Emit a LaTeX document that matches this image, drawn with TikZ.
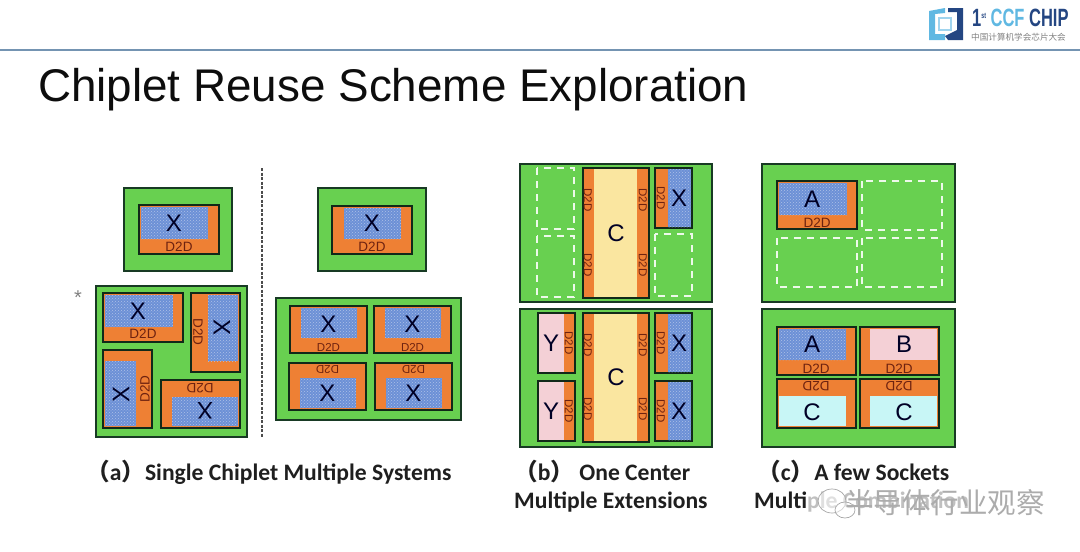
\documentclass[tikz,border=0pt]{standalone}
\usepackage{fontspec}
\setmainfont{Liberation Sans}
\newfontfamily\capfont{Carlito}
\newfontfamily\cjk{Noto Sans CJK SC}
\usetikzlibrary{patterns}
\definecolor{boardgreen}{RGB}{104,208,80}
\definecolor{edgedark}{RGB}{24,58,36}
\definecolor{phyorange}{RGB}{238,128,52}
\definecolor{coreblue}{RGB}{108,144,214}
\definecolor{dtdred}{RGB}{110,34,16}
\definecolor{centercream}{RGB}{250,230,160}
\definecolor{corepink}{RGB}{244,208,214}
\definecolor{corecyan}{RGB}{200,246,246}
\definecolor{logonavy}{RGB}{36,70,130}
\definecolor{logosky}{RGB}{96,184,226}
\definecolor{headerline}{RGB}{116,148,178}

\begin{document}
\begin{tikzpicture}[x=1pt, y=-1pt]
        \tikzstyle{board} = [draw = edgedark, line width = 1.5pt, fill = boardgreen]
        \tikzstyle{chipbox} = [draw = edgedark!70!black, line width = 1.6pt, fill = phyorange]
        \tikzstyle{xcore} = [fill = coreblue, postaction = {pattern = crosshatch dots, pattern color = white!45!coreblue}]
        \tikzstyle{socket} = [draw = white!88!boardgreen, line width = 1.9pt, dash pattern = on 7pt off 6pt]
        \tikzstyle{corename} = [inner sep = 0pt, text = black!85!blue, font = \fontsize{24}{24}\selectfont]
        \tikzstyle{dtd} = [inner sep = 0pt, text = dtdred, font = \fontsize{13.5}{14}\selectfont]
        \tikzstyle{dtdsmall} = [inner sep = 0pt, text = dtdred, font = \fontsize{11.5}{12}\selectfont]
        \tikzstyle{caption} = [inner sep = 0pt, anchor = west, text = black!88, font = \capfont\bfseries\fontsize{23.6}{26}\selectfont]
        \useasboundingbox (0,0) rectangle (1080,552);

        % header
        \draw[line width = 2pt, color = headerline] (0,50) -- (1080,50);
        \fill[logosky] (929,11) -- (945,8) -- (945,13) -- (935,14) -- (935,34) -- (945,34) -- (945,40) -- (929,40) -- cycle;
        \fill[logonavy] (963,8) -- (948,8) -- (948,12) -- (957,12) -- (957,30) -- (945,36) -- (948,40) -- (963,40) -- cycle;
        \draw[logosky!60!white, line width = 1.5pt] (939,18) rectangle (951,30);
        \node[inner sep = 0pt, anchor = west, xscale = .66, font = \bfseries\fontsize{25}{26}\selectfont] (chipname) at (972,18)
          {\textcolor{logonavy}{1\raisebox{8pt}{\fontsize{8}{8}\selectfont st}} \textcolor{logosky}{CCF} \textcolor{logonavy}{CHIP}};
        \node[inner sep = 0pt, anchor = west, text = gray, font = \cjk\fontsize{8.6}{9}\selectfont] (chipsub) at (971,37) {中国计算机学会芯片大会};
        \node[inner sep = 0pt, anchor = west, text = black!95, font = \fontsize{45.8}{50}\selectfont] (title) at (38,90) {Chiplet Reuse Scheme Exploration};

        % (a) left
        \draw[board] (124,188) rectangle (232,271);
        \draw[chipbox] (139,205) rectangle (219,254);
        \fill[xcore] (141,207) rectangle (208,239);
        \node[corename] (xa) at (174,223) {X};
        \node[dtd] (da) at (179,247) {D2D};
        \node[inner sep = 0pt, text = gray, font = \fontsize{20}{20}\selectfont] (star) at (78,298) {*};
        \draw[board] (96,286) rectangle (247,437);
        \draw[chipbox] (103,293) rectangle (183,342);
        \fill[xcore] (105,295) rectangle (173,327);
        \node[corename] (xb) at (138,311) {X};
        \node[dtd] (db) at (143,334) {D2D};
        \draw[chipbox] (191,293) rectangle (240,372);
        \fill[xcore] (208,295) rectangle (238,361);
        \node[corename, rotate = -90] (xc) at (222,327) {X};
        \node[dtd, rotate = -90] (dc) at (198,332) {D2D};
        \draw[chipbox] (103,350) rectangle (152,428);
        \fill[xcore] (105,361) rectangle (136,426);
        \node[corename, rotate = 90] (xd) at (121,394) {X};
        \node[dtd, rotate = 90] (dd) at (145,389) {D2D};
        \draw[chipbox] (161,380) rectangle (240,428);
        \fill[xcore] (172,397) rectangle (238,426);
        \node[corename, rotate = 180] (xe) at (205,411) {X};
        \node[dtd, rotate = 180] (de) at (200,388) {D2D};
        \draw[line width = 2pt, color = black!70, dash pattern = on 3pt off 1.5pt] (262,168) -- (262,437);

        % (a) right
        \draw[board] (318,188) rectangle (426,271);
        \draw[chipbox] (332,206) rectangle (412,254);
        \fill[xcore] (344,208) rectangle (401,239);
        \node[corename] (xf) at (372,223) {X};
        \node[dtd] (df) at (372,247) {D2D};
        \draw[board] (276,298) rectangle (461,420);
        \foreach \i/\l/\r in {g/290/367, h/374/451} {
          \draw[chipbox] (\l,306) rectangle (\r,353);
          \fill[xcore] (\l+11,308) rectangle (\r-10,338);
          \node[corename] (x\i) at (\l/2+\r/2,324) {X};
          \node[dtdsmall] (d\i) at (\l/2+\r/2,347) {D2D};
        }
        \foreach \i/\l/\r in {j/289/366, k/375/452} {
          \draw[chipbox] (\l,363) rectangle (\r,410);
          \fill[xcore] (\l+11,378) rectangle (\r-10,408);
          \node[corename] (x\i) at (\l/2+\r/2,393) {X};
          \node[dtdsmall, rotate = 180] (d\i) at (\l/2+\r/2,370) {D2D};
        }

        % (b)
        \draw[board] (520,164) rectangle (712,302);
        \draw[socket] (537,168) rectangle (574,229);
        \draw[socket] (537,236) rectangle (574,297);
        \draw[socket] (655,234) rectangle (692,296);
        \draw[board] (520,309) rectangle (712,447);
        \foreach \i/\t/\b in {1/168/298, 2/313/442} {
          \draw[chipbox] (583,\t) rectangle (649,\b);
          \fill[centercream] (594,\t+1) rectangle (637,\b-1);
          \node[corename] (c\i) at (616,\t/2+\b/2) {C};
          \foreach \k in {588, 643} {
            \node[dtdsmall, rotate = -90] (dt\i\k) at (\k,\t+32) {D2D};
            \node[dtdsmall, rotate = -90] (db\i\k) at (\k,\b-33) {D2D};
          }
        }
        \foreach \i/\t/\b in {1/168/228, 2/313/373, 3/381/441} {
          \draw[chipbox] (655,\t) rectangle (692,\b);
          \fill[xcore] (668,\t+1) rectangle (691,\b-1);
          \node[corename] (xr\i) at (679,\t/2+\b/2) {X};
          \node[dtdsmall, rotate = -90] (dr\i) at (661,\t/2+\b/2) {D2D};
        }
        \foreach \i/\t/\b in {1/313/373, 2/381/441} {
          \draw[chipbox] (538,\t) rectangle (575,\b);
          \fill[corepink] (539,\t+1) rectangle (564,\b-1);
          \node[corename] (y\i) at (551,\t/2+\b/2) {Y};
          \node[dtdsmall, rotate = -90] (dy\i) at (569,\t/2+\b/2) {D2D};
        }

        % (c)
        \draw[board] (762,164) rectangle (955,302);
        \draw[chipbox] (777,181) rectangle (857,229);
        \fill[xcore] (779,183) rectangle (847,215);
        \node[corename] (a1) at (812,199) {A};
        \node[dtd] (da1) at (817,223) {D2D};
        \draw[socket] (862,181) rectangle (942,230);
        \draw[socket] (777,238) rectangle (857,287);
        \draw[socket] (862,238) rectangle (942,287);
        \draw[board] (762,309) rectangle (955,447);
        \draw[chipbox] (777,327) rectangle (856,375);
        \fill[xcore] (779,329) rectangle (846,360);
        \node[corename] (a2) at (812,344) {A};
        \node[dtd] (da2) at (816,369) {D2D};
        \draw[chipbox] (860,327) rectangle (939,375);
        \fill[corepink] (870,329) rectangle (937,360);
        \node[corename] (b2) at (904,344) {B};
        \node[dtd] (db2) at (899,369) {D2D};
        \draw[chipbox] (777,379) rectangle (856,428);
        \fill[corecyan] (779,396) rectangle (846,426);
        \node[corename] (cl) at (812,412) {C};
        \node[dtd, rotate = 180] (dcl) at (816,386) {D2D};
        \draw[chipbox] (860,379) rectangle (939,428);
        \fill[corecyan] (870,396) rectangle (937,426);
        \node[corename] (cr) at (904,412) {C};
        \node[dtd, rotate = 180] (dcr) at (899,386) {D2D};

        % captions
        \node[caption] (capa) at (86,472) {{\cjk （}a{\cjk ）}Single Chiplet Multiple Systems};
        \node[caption] (capb) at (514,472) {{\cjk （}b{\cjk ）} One Center};
        \node[caption] (capb2) at (514,502) {Multiple Extensions};
        \node[caption] (capc) at (757,472) {{\cjk （}c{\cjk ）}A few Sockets};
        \node[caption] (capc2) at (754,502) {Multiple Combination};

        % watermark
        \fill[white, opacity = .72] (806,486) rectangle (1048,520);
        \draw[gray!70, line width = .7pt, fill = white, fill opacity = .5] (832,501) ellipse (14 and 12);
        \draw[gray!70, line width = .7pt, fill = white, fill opacity = .5] (845,510) ellipse (10 and 8);
        \node[inner sep = 0pt, anchor = west, text = gray!65, font = \cjk\fontsize{28.5}{30}\selectfont] (wmark) at (845,503) {半导体行业观察};
      \end{tikzpicture}
\end{document}
